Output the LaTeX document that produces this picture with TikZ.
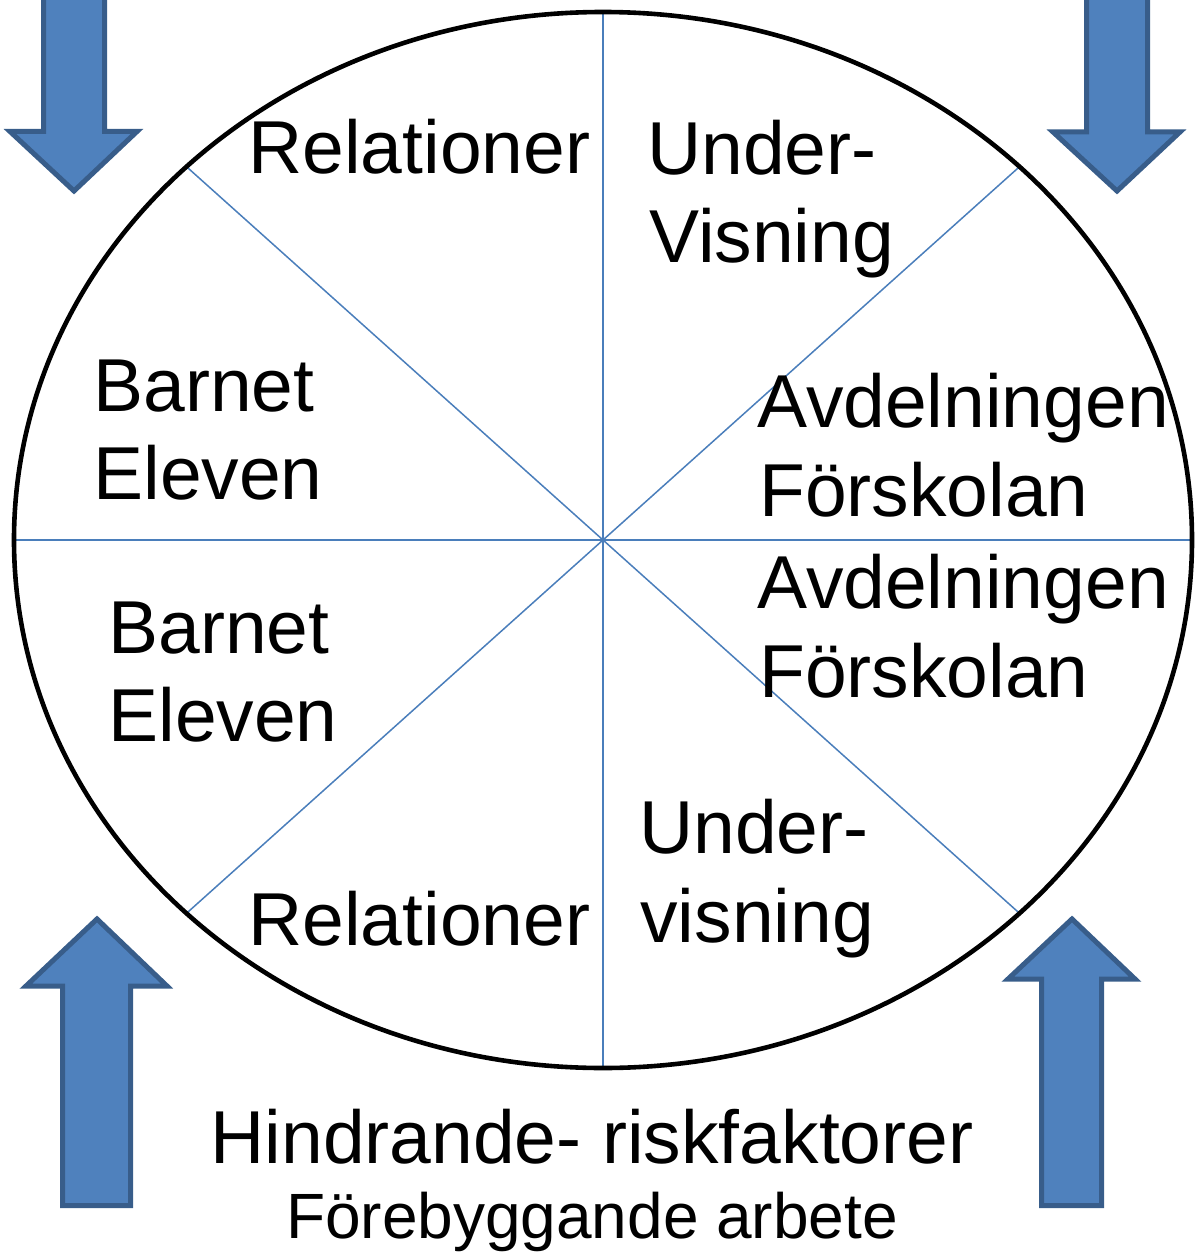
\documentclass[tikz,border=0pt]{standalone}
\usepackage{fontspec}
\setmainfont{Liberation Sans}
\definecolor{arrowfill}{HTML}{4F81BD}
\definecolor{arrowedge}{HTML}{385D8A}
\definecolor{spoke}{HTML}{4A7EBB}
\begin{document}
\begin{tikzpicture}[x=0.5pt,y=-0.5pt,
  lbl/.style={anchor=base west,inner sep=0pt,font=\fontsize{37.5}{45}\selectfont},
  blockarrow/.style={fill=arrowfill,draw=arrowedge,line width=2.5pt,line join=miter},
  spokeline/.style={draw=spoke,line width=0.75pt},
  rim/.style={draw=black,line width=2.3pt}]
\useasboundingbox (0,0) rectangle (1194,1257);
\begin{scope}
\clip (0,0) rectangle (1194,1257);
% arrows
\path[blockarrow] (43.5,-20) -- (104.5,-20) -- (104.5,131.5) -- (137,131.5) -- (74,191) -- (10,131.5) -- (43.5,131.5) -- cycle;
\path[blockarrow] (1086.5,-20) -- (1147.5,-20) -- (1147.5,132) -- (1180,132) -- (1117,191) -- (1053,132) -- (1086.5,132) -- cycle;
\path[blockarrow] (62.5,1205.5) -- (130.5,1205.5) -- (130.5,986) -- (167,986) -- (97,919) -- (26,986) -- (62.5,986) -- cycle;
\path[blockarrow] (1041.5,1205.5) -- (1101.5,1205.5) -- (1101.5,979) -- (1135,979) -- (1072,919) -- (1008,979) -- (1041.5,979) -- cycle;
\end{scope}
% wheel
\coordinate (c) at (603,540);
\coordinate (n) at (603,12);
\coordinate (s) at (603,1068);
\coordinate (w) at (14,540);
\coordinate (e) at (1192,540);
\coordinate (nw) at (186.5,166.7);
\coordinate (ne) at (1019.5,166.7);
\coordinate (sw) at (186.5,913.3);
\coordinate (se) at (1019.5,913.3);
\draw[spokeline] (n) -- (s);
\draw[spokeline] (w) -- (e);
\draw[spokeline] (nw) -- (se);
\draw[spokeline] (ne) -- (sw);
\draw[rim] (c) ellipse [x radius=589, y radius=528];
% labels
\node[lbl] (rel1) at (248,174) {Relationer};
\node[lbl] (und1) at (647,175) {Under-};
\node[lbl] (vis1) at (649,263) {Visning};
\node[lbl] (bar1) at (93,411) {Barnet};
\node[lbl] (ele1) at (93,499) {Eleven};
\node[lbl] (avd1) at (757,427) {Avdelningen};
\node[lbl] (for1) at (759,516) {Förskolan};
\node[lbl] (avd2) at (757,608) {Avdelningen};
\node[lbl] (for2) at (759,697) {Förskolan};
\node[lbl] (bar2) at (108,653) {Barnet};
\node[lbl] (ele2) at (108,741) {Eleven};
\node[lbl] (und2) at (639,853) {Under-};
\node[lbl] (vis2) at (640,942) {visning};
\node[lbl] (rel2) at (248,945) {Relationer};
\node[anchor=base,inner sep=0pt,font=\fontsize{37.5}{45}\selectfont] (hind) at (592,1163) {Hindrande- riskfaktorer};
\node[anchor=base,inner sep=0pt,font=\fontsize{32}{38}\selectfont] (fore) at (592,1238) {Förebyggande arbete};
\end{tikzpicture}
\end{document}
